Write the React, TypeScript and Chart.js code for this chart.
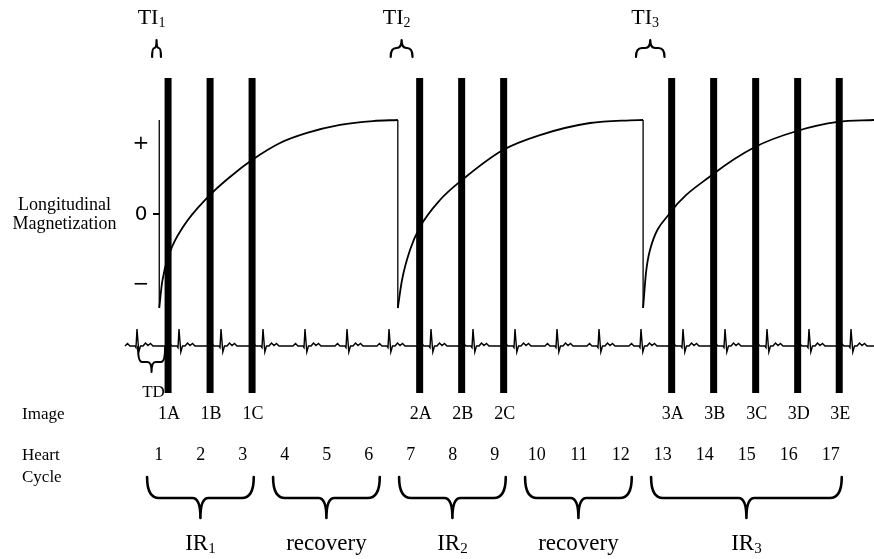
import React, { useEffect, useRef } from 'react';
import { Chart, registerables } from 'chart.js';
Chart.register(...registerables);

// ---------------- data (time in heart beats, magnetization in units of M0) ----------------
const heartCycles = [1, 2, 3, 4, 5, 6, 7, 8, 9, 10, 11, 12, 13, 14, 15, 16, 17];
const rPeakTimes = [0, 1, 2, 3, 4, 5, 6, 7, 8, 9, 10, 11, 12, 13, 14, 15, 16, 17];
const imageLabels = ['1A', '1B', '1C', '2A', '2B', '2C', '3A', '3B', '3C', '3D', '3E'];
const imageTimes = [0.74, 1.74, 2.74, 6.73, 7.73, 8.73, 12.73, 13.73, 14.73, 15.73, 16.72];
const inversionTimes = [0.53, 6.21, 12.05];
const tiSubscripts = ['1', '2', '3'];

const recovery1T = [0.53, 0.6, 0.786, 1.095, 1.69, 2.214, 2.738, 3.405, 4.048, 4.833, 5.619, 6.21];
const recovery1M = [-1, -0.72, -0.404, -0.138, 0.181, 0.394, 0.574, 0.755, 0.862, 0.947, 0.989, 1.0];
const recovery2T = [6.21, 6.31, 6.5, 6.738, 7.214, 7.738, 8.714, 9.595, 10.786, 11.738, 12.05];
const recovery2M = [-1, -0.702, -0.383, -0.138, 0.149, 0.362, 0.681, 0.84, 0.968, 0.997, 1.0];
const recovery3T = [12.05, 12.12, 12.214, 12.69, 13.69, 14.714, 15.714, 16.69, 17.55];
const recovery3M = [-1, -0.62, -0.383, 0.011, 0.415, 0.713, 0.883, 0.979, 1.0];

const magTickValues = [0.75, 0, -0.75];
const magTickLabels = ['+', '0', '\u2212'];

const groupMain = ['IR', 'recovery', 'IR', 'recovery', 'IR'];
const groupSub = ['1', '', '2', '', '3'];
const groupFromCycle = [1, 4, 7, 10, 13];
const groupToCycle = [3, 6, 9, 12, 17];

// ECG complex shape around each R peak (time offset in beats, amplitude relative to R)
const ecgTemplateDt = [-0.286, -0.226, -0.167, -0.048, -0.024, 0, 0.043, 0.083, 0.143, 0.202, 0.262, 0.321, 0.381];
const ecgTemplateAmp = [0, 0.15, 0, 0, -0.09, 1, -0.35, 0, 0, 0.18, 0.03, 0.15, 0];

// ---------------- layout ----------------
const W = 874;
const H = 559;
const PX_PER_BEAT = 42;
const FIRST_PEAK_PX = 137;
const X_MIN = -FIRST_PEAK_PX / PX_PER_BEAT;
const X_MAX = (W - FIRST_PEAK_PX) / PX_PER_BEAT;
const M_ZERO_PX = 214;
const M_UNIT_PX = 94;
const ECG_BASE_PX = 346;
const ECG_UNIT_PX = 17;
const ECG_START = -0.286;
const ECG_END = X_MAX;
const BAR_TOP = 78;
const BAR_BOTTOM = 393;
const SERIF = '"Liberation Serif", "Times New Roman", serif';
const SANS = '"DejaVu Sans", sans-serif';

function drawSubText(ctx: CanvasRenderingContext2D, main: string, sub: string, cx: number, base: number, size: number, subSize: number, drop: number) {
  ctx.font = `${size}px ${SERIF}`;
  const w1 = ctx.measureText(main).width;
  ctx.font = `${subSize}px ${SERIF}`;
  const w2 = sub ? ctx.measureText(sub).width : 0;
  const left = cx - (w1 + w2) / 2;
  ctx.textAlign = 'left';
  ctx.textBaseline = 'alphabetic';
  ctx.font = `${size}px ${SERIF}`;
  ctx.fillText(main, left, base);
  if (sub) {
    ctx.font = `${subSize}px ${SERIF}`;
    ctx.fillText(sub, left + w1, base + drop);
  }
}

function drawBrace(ctx: CanvasRenderingContext2D, x1: number, x2: number, yEnd: number, yMid: number, yTip: number, rEnd: number, rTip: number, xTip?: number) {
  const xc = xTip === undefined ? (x1 + x2) / 2 : xTip;
  const re = Math.min(rEnd, (xc - x1) / 2, (x2 - xc) / 2);
  const rt = Math.min(rTip, (xc - x1) / 2, (x2 - xc) / 2);
  ctx.beginPath();
  ctx.moveTo(x1, yEnd);
  ctx.quadraticCurveTo(x1, yMid, x1 + re, yMid);
  ctx.lineTo(xc - rt, yMid);
  ctx.quadraticCurveTo(xc, yMid, xc, yTip);
  ctx.quadraticCurveTo(xc, yMid, xc + rt, yMid);
  ctx.lineTo(x2 - re, yMid);
  ctx.quadraticCurveTo(x2, yMid, x2, yEnd);
  ctx.stroke();
}

const annotationPlugin = {
  id: 'annotations',
  afterDatasetsDraw(chart: any) {
    const ctx: CanvasRenderingContext2D = chart.ctx;
    const xs = chart.scales.x;
    const ym = chart.scales.y;
    const X = (t: number) => xs.getPixelForValue(t);
    const YM = (m: number) => ym.getPixelForValue(m);
    ctx.save();
    ctx.fillStyle = '#000';
    ctx.strokeStyle = '#000';
    ctx.lineCap = 'round';
    ctx.lineJoin = 'round';

    // TI braces and labels
    ctx.lineWidth = 2.2;
    inversionTimes.forEach((inv, i) => {
      const firstImg = imageTimes.find((t) => t > inv) as number;
      const shift = 0.17;
      const x1 = X(inv - shift);
      const x2 = X(firstImg - shift);
      drawBrace(ctx, x1, x2, 57, 48, 40, 6, 5);
      drawSubText(ctx, 'TI', tiSubscripts[i], (x1 + x2) / 2 - 5, 24, 22, 14, 3);
    });

    // Magnetization axis ticks
    ctx.font = `20px ${SANS}`;
    ctx.textAlign = 'center';
    ctx.textBaseline = 'middle';
    magTickValues.forEach((v, i) => {
      ctx.fillText(magTickLabels[i], 141, YM(v) + (v === 0 ? 1 : 0));
    });
    ctx.lineWidth = 2;
    ctx.lineCap = 'butt';
    ctx.beginPath();
    ctx.moveTo(153, YM(0));
    ctx.lineTo(X(inversionTimes[0]), YM(0));
    ctx.stroke();
    ctx.lineCap = 'round';

    // Axis title
    ctx.font = `18px ${SERIF}`;
    ctx.textAlign = 'center';
    ctx.textBaseline = 'alphabetic';
    ctx.fillText('Longitudinal', 64.5, 210);
    ctx.fillText('Magnetization', 64.5, 229);

    // TD brace
    ctx.lineWidth = 2;
    drawBrace(ctx, X(rPeakTimes[0]) + 1, X(imageTimes[0]) - 3, ECG_BASE_PX + 1, 362, 372, 4, 4);
    ctx.font = `17px ${SERIF}`;
    ctx.textAlign = 'center';
    ctx.fillText('TD', (X(rPeakTimes[0]) + X(imageTimes[0])) / 2 + 1, 397);

    // Image labels
    ctx.font = `18px ${SERIF}`;
    imageLabels.forEach((lab, i) => {
      ctx.fillText(lab, X(imageTimes[i]) + 1, 419);
    });

    // Heart cycle numbers
    heartCycles.forEach((c) => {
      ctx.fillText(String(c), X(c - 1 + 0.52), 460);
    });

    // Row labels
    ctx.font = `17px ${SERIF}`;
    ctx.textAlign = 'left';
    ctx.fillText('Image', 22, 419);
    ctx.fillText('Heart', 22, 460);
    ctx.fillText('Cycle', 22, 482);

    // Group braces + labels
    ctx.lineWidth = 2.6;
    groupMain.forEach((main, i) => {
      const x1 = X(groupFromCycle[i] - 1 + 0.24);
      const x2 = X(groupToCycle[i] - 1 + 0.78);
      drawBrace(ctx, x1, x2, 477, 498, 518, 12, 8);
      drawSubText(ctx, main, groupSub[i], (x1 + x2) / 2, 550, 23, 15, 3);
    });

    ctx.restore();
  },
};

export default function App() {
  const ref = useRef<HTMLCanvasElement>(null);
  useEffect(() => {
    document.body.style.margin = '0';
    const canvas = ref.current as HTMLCanvasElement;

    const ecgPoints: { x: number; y: number }[] = [{ x: ECG_START, y: 0 }];
    rPeakTimes.forEach((p) => {
      ecgTemplateDt.forEach((dt, i) => {
        const x = p + dt;
        if (x > ECG_START && x < ECG_END) ecgPoints.push({ x, y: ecgTemplateAmp[i] });
      });
    });
    ecgPoints.push({ x: ECG_END, y: 0 });

    const barPoints: any[] = [];
    imageTimes.forEach((t) => {
      barPoints.push({ x: t, y: BAR_TOP }, { x: t, y: BAR_BOTTOM }, { x: t, y: null });
    });
    const invPoints: any[] = [];
    inversionTimes.forEach((t) => {
      invPoints.push({ x: t, y: 1 }, { x: t, y: -1 }, { x: t, y: null });
    });
    const toPts = (ts: number[], ms: number[]) => ts.map((t, i) => ({ x: t, y: ms[i] }));

    const common = { pointRadius: 0, fill: false, borderColor: '#000', backgroundColor: '#000' };
    const chart = new Chart(canvas, {
      type: 'line',
      data: {
        datasets: [
          { ...common, label: 'images', data: barPoints, yAxisID: 'yL', borderWidth: 7, borderCapStyle: 'butt', spanGaps: false },
          { ...common, label: 'inversion', data: invPoints, yAxisID: 'y', borderWidth: 1.3, borderCapStyle: 'butt', spanGaps: false },
          { ...common, label: 'Mz1', data: toPts(recovery1T, recovery1M), yAxisID: 'y', borderWidth: 1.8, cubicInterpolationMode: 'monotone' },
          { ...common, label: 'Mz2', data: toPts(recovery2T, recovery2M), yAxisID: 'y', borderWidth: 1.8, cubicInterpolationMode: 'monotone' },
          { ...common, label: 'Mz3', data: toPts(recovery3T, recovery3M), yAxisID: 'y', borderWidth: 1.8, cubicInterpolationMode: 'monotone' },
          { ...common, label: 'ECG', data: ecgPoints, yAxisID: 'yE', borderWidth: 1.4 },
        ] as any,
      },
      options: {
        responsive: false,
        animation: false,
        layout: { padding: 0 },
        plugins: { legend: { display: false }, tooltip: { enabled: false } },
        elements: { point: { radius: 0 } },
        scales: {
          x: { type: 'linear', min: X_MIN, max: X_MAX, display: false },
          y: { type: 'linear', min: -(H - M_ZERO_PX) / M_UNIT_PX, max: M_ZERO_PX / M_UNIT_PX, display: false },
          yL: { type: 'linear', min: 0, max: H, reverse: true, display: false },
          yE: { type: 'linear', min: -(H - ECG_BASE_PX) / ECG_UNIT_PX, max: ECG_BASE_PX / ECG_UNIT_PX, display: false },
        },
      } as any,
      plugins: [annotationPlugin],
    });
    return () => chart.destroy();
  }, []);
  return <canvas ref={ref} width={W} height={H} style={{ display: 'block', width: W, height: H }} />;
}
